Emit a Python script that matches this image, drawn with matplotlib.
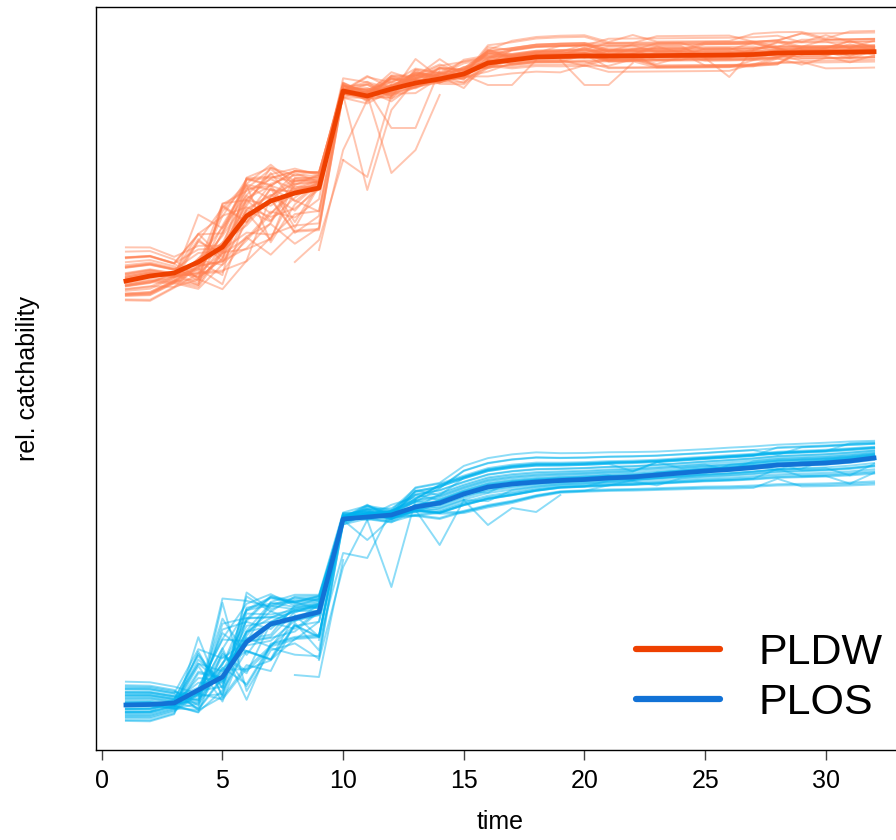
"""Relative catchability over time: ensemble runs (thin) and their mean (thick)."""
import numpy as np
import matplotlib
matplotlib.use("Agg")
import matplotlib.pyplot as plt
from matplotlib.lines import Line2D

plt.rcParams["font.family"] = ["Liberation Sans", "DejaVu Sans"]

TIME = list(range(1, 33))

# ---- PLDW: mean line and spread of the runs around it ----
PLDW_MEAN = [4.69, 4.74, 4.77, 4.88, 5.03, 5.34, 5.49, 5.57, 5.62, 6.59, 6.54, 6.61,
             6.67, 6.71, 6.76, 6.87, 6.90, 6.93, 6.935, 6.94, 6.94, 6.942, 6.944, 6.946,
             6.948, 6.95, 6.955, 6.97, 6.973, 6.975, 6.978, 6.983]
PLDW_UP = [.33, .28, .21, .60, .65, .38, .33, .23, .16, .24, .26, .28, .30, .28, .26, .25,
           .25, .26, .27, .27, .27, .27, .27, .27, .27, .27, .27, .27, .27, .27, .27, .27]
PLDW_DOWN = [.21, .27, .22, .28, .38, .52, .59, .57, .62, .20, .22, .22, .22, .22, .22, .22,
             .22, .24, .26, .26, .26, .26, .26, .26, .26, .26, .26, .26, .26, .26, .26, .26]
# each run: one digit per time step, 4 = mean, 0 = lower edge, 8 = upper edge
PLDW_RUNS = [
    "33345713 54537465 44454455 55544454",
    "55417634 63465554 55565666 66655565",
    "11232220 13344332 33343322 22233323",
    "77666864 44645556 66666677 77667666",
    "44353416 54454343 44443333 34334444",
    "22320157 75436442 22232222 22333222",
    "88754586 64745646 77776766 66777677",
    "66523678 83524454 44445555 55654444",
    "00132353 24443334 33323344 44433343",
    "55415862 55365565 55556666 66655555",
    "33234341 13423443 44454422 22224444",
    "66547775 64454654 66665555 55566656",
    "11202446 65332435 33343322 22232333",
    "55463236 64564546 55554444 44555455",
    "22323573 53445424 44444444 22224434",
    "77665768 85565747 77776666 66667777",
    "33441887 75443453 44454555 55444444",
    "44314322 24634545 55544434 44445555",
    "00125754 55433344 33333433 33334444",
    "66554537 74555656 55666666 66655565",
    "22342235 46645323 33332222 22333333",
    "55435878 85536545 55555544 44545555",
    "33203114 43454414 44443333 33344434",
    "66536533 44756536 66665555 55556666",
    "11244678 74443444 44442222 22224444",
    "88727462 54564647 66667777 77776766",
    "44321201 13445443 44444454 44444444",
    "55463785 65545665 66665555 66665666",
    "22116347 53334323 22222322 22222222",
    "66545645 54545556 55555555 44454555",
    "33230467 84455454 44445555 44444434",
    "77623553 55636444 33334444 44443333",
    "11256785 75464345 44445555 33334444",
    "55432123 34545656 66666655 55566666",
    "44375634 54533433 33333344 33343333",
    "33424876 74554446 55554444 55555555",
    "66513232 35445434 44443333 44444444",
    "22344556 63345565 66665555 66665555",
    "44336741 24625446 44443333 33334444",
    "77654668 85464556 55555566 55555555",
]
PLDW_SHIFT = [0.05, -0.08, 0.11, -0.03, 0.09, -0.11, 0.02, -0.06, 0.12, -0.01,
              0.07, -0.09, 0.04, -0.12, 0.10, -0.04, 0.01, -0.07, 0.08, -0.10,
              0.03, -0.05, 0.11, -0.02, 0.06, -0.11, 0.09, -0.03, 0.12, -0.08,
              0.02, -0.06, 0.10, -0.12, 0.04, -0.01, 0.07, -0.09, 0.05, -0.04]
# late-jumping stretches of single runs: (times, values)
PLDW_LATE = [
    ([9, 10, 11, 12], [5.00, 6.00, 6.50, 6.65]),
    ([10, 11, 12], [5.90, 5.73, 6.55]),
    ([10, 11, 12, 13], [6.55, 5.60, 6.40, 6.70]),
    ([11, 12, 13, 14], [6.60, 6.22, 6.22, 6.80]),
    ([11, 12, 13, 14], [6.55, 5.77, 6.00, 6.55]),
    ([8, 9, 10], [4.88, 5.10, 5.90]),
    ([19, 20, 21, 22], [6.90, 6.65, 6.65, 6.87]),
    ([25, 26, 27], [6.92, 6.73, 7.00]),
    ([15, 16, 17, 18], [6.75, 6.65, 6.65, 6.90]),
]

# ---- PLOS ----
PLOS_MEAN = [0.45, 0.455, 0.47, 0.60, 0.73, 1.08, 1.26, 1.32, 1.38, 2.31, 2.33, 2.35,
             2.43, 2.47, 2.56, 2.63, 2.66, 2.68, 2.695, 2.705, 2.72, 2.73, 2.75, 2.77,
             2.79, 2.805, 2.825, 2.85, 2.86, 2.87, 2.89, 2.92]
PLOS_UP = [.21, .20, .19, .80, .72, .49, .29, .23, .17, .25, .22, .20, .37, .38, .36, .37,
           .38, .38, .35, .34, .33, .32, .30, .29, .28, .28, .27, .26, .26, .26, .25, .22]
PLOS_DOWN = [.19, .20, .19, .25, .35, .68, .56, .54, .65, .16, .18, .20, .23, .25, .28, .30,
             .28, .22, .18, .18, .19, .20, .22, .24, .26, .28, .30, .32, .33, .34, .36, .39]
PLOS_RUNS = [
    "22345687 54546666 66666566 66677777",
    "66524213 34433222 22222333 33333323",
    "44362654 45544555 55555555 54555555",
    "11234436 64634443 44444444 44443333",
    "77646787 75555677 77777777 77767777",
    "33418122 13443332 33333323 33333333",
    "55437646 64555444 44444444 45555555",
    "22302314 24433211 11112222 22222212",
    "66563777 84656566 66666666 66666666",
    "44354545 54345444 44444344 44444444",
    "88725233 35434333 33333333 33343333",
    "33432867 74465555 55555555 55555555",
    "55443424 44543444 44444444 44434444",
    "11254556 64455666 66666666 66666677",
    "44336312 23442222 22223333 33333444",
    "66545787 84545555 55555565 55555555",
    "22351443 44534333 33333333 33333333",
    "55427655 64644444 44444444 44444444",
    "77635221 13433211 11111111 11121111",
    "33454778 75556677 77777777 77777777",
    "44346435 54443444 44444444 44444444",
    "88712564 64555555 55555555 55555555",
    "11234313 24533333 33333333 33333333",
    "66543687 74555666 66666666 66666666",
    "33425244 44434444 44444444 44444444",
    "55464576 65655555 55555555 55555555",
    "22305122 33443222 22222222 22222222",
    "44563868 85546666 66666666 66666666",
    "77614433 44534444 44444444 44444444",
    "33453655 54445555 55555555 55555555",
    "11272314 23433333 33333333 33333333",
    "66546786 74646677 77777777 77777777",
    "44325434 44454444 44444444 44444444",
    "88731223 24432111 11111111 11111111",
    "22354576 65545666 66666666 66666666",
    "55437345 44534444 44444444 44444444",
    "33546133 33543222 22222222 22222222",
    "66528767 74555555 55555555 55555555",
    "44314544 45434333 33333333 33333333",
    "77665478 85656666 66666666 66666666",
]
PLOS_SHIFT = [-0.07, 0.10, -0.02, 0.06, -0.11, 0.03, -0.09, 0.12, -0.05, 0.08,
              -0.12, 0.01, 0.09, -0.04, 0.11, -0.08, 0.05, -0.01, 0.07, -0.10,
              0.02, -0.06, 0.12, -0.03, 0.04, -0.12, 0.10, -0.07, 0.00, 0.08,
              -0.09, 0.03, -0.05, 0.11, -0.02, 0.06, -0.10, 0.09, -0.04, 0.01]
PLOS_LATE = [
    ([9, 10, 11, 12], [1.10, 1.97, 1.92, 2.40]),
    ([9, 10, 11], [0.90, 1.83, 2.30]),
    ([11, 12, 13], [2.30, 1.63, 2.50]),
    ([13, 14, 15], [2.40, 2.05, 2.50]),
    ([10, 11, 12], [2.30, 2.10, 2.32]),
    ([15, 16, 17, 18, 19], [2.50, 2.25, 2.42, 2.38, 2.55]),
    ([8, 9, 10], [0.75, 0.73, 1.90]),
]

GROUPS = ["PLDW", "PLOS"]
RUN_COLORS = {"PLDW": "#FF7F50", "PLOS": "#00B2EE"}
MEAN_COLORS = {"PLDW": "#EE4000", "PLOS": "#1272D6"}


def run_values(mean, up, down, code, shift):
    digits = np.array([int(c) for c in code.replace(" ", "")])
    assert len(digits) == len(mean), code
    d = (digits - 4) / 4.0 + shift
    mean, up, down = np.asarray(mean), np.asarray(up), np.asarray(down)
    return np.where(d > 0, mean + d * up, mean + d * down)


def main():
    fig = plt.figure(figsize=(8.96, 8.4), dpi=100)
    ax = fig.add_axes([96 / 896, 90 / 840, 808 / 896, 743 / 840])

    data = {
        "PLDW": (PLDW_MEAN, PLDW_UP, PLDW_DOWN, PLDW_RUNS, PLDW_SHIFT, PLDW_LATE),
        "PLOS": (PLOS_MEAN, PLOS_UP, PLOS_DOWN, PLOS_RUNS, PLOS_SHIFT, PLOS_LATE),
    }

    # thin runs
    for g in GROUPS:
        mean, up, down, runs, shifts, late = data[g]
        for code, sh in zip(runs, shifts):
            ax.plot(TIME, run_values(mean, up, down, code, sh), color=RUN_COLORS[g],
                    lw=1.4, alpha=0.45, zorder=2)
        for t, v in late:
            ax.plot(t, v, color=RUN_COLORS[g], lw=1.4, alpha=0.45, zorder=2)

    # means on top
    for g in GROUPS:
        ax.plot(TIME, data[g][0], color=MEAN_COLORS[g], lw=3.4, zorder=4,
                solid_joinstyle="round")

    ax.set_xlim(-0.24, 33.24)
    ax.set_ylim(0, 7.43)
    ax.set_xticks([0, 5, 10, 15, 20, 25, 30])
    ax.set_yticks([])
    ax.tick_params(axis="x", labelsize=18, length=7, width=1, color="#444444", pad=7)
    for s in ax.spines.values():
        s.set_linewidth(1.0)
    ax.set_xlabel("time", fontsize=18, labelpad=12)
    ax.set_ylabel("rel. catchability", fontsize=18, labelpad=40)

    handles = [Line2D([], [], color=MEAN_COLORS[g], lw=4.5, solid_capstyle="round")
               for g in GROUPS]
    ax.legend(handles, GROUPS, loc="upper left",
              bbox_to_anchor=(636 / 896, 1 - 633 / 840), bbox_transform=fig.transFigure,
              frameon=False, fontsize=31, handlelength=1.95, handletextpad=0.9,
              labelspacing=0.24, borderpad=0, borderaxespad=0)

    fig.savefig("out.png", dpi=100)
    plt.close(fig)


if __name__ == "__main__":
    main()
